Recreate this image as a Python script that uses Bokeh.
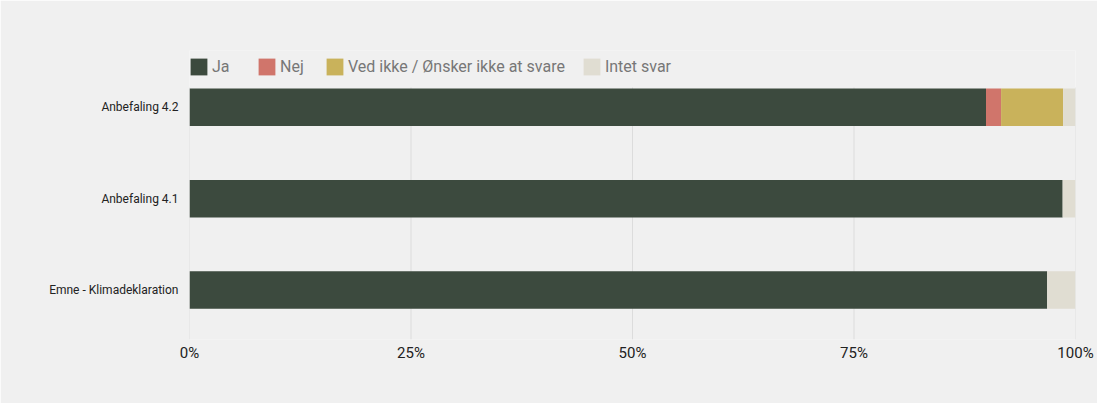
from bokeh.plotting import figure
from bokeh.models import ColumnDataSource, Range1d, FixedTicker, Legend, LegendItem
from bokeh.embed import file_html
from bokeh.resources import INLINE

categories = ["Emne - Klimadeklaration", "Anbefaling 4.1", "Anbefaling 4.2"]
series_names = ["Ja", "Nej", "Ved ikke / Ønsker ikke at svare", "Intet svar"]
ja = [96.8, 98.55, 89.9]
nej = [0.0, 0.0, 1.7]
ved_ikke = [0.0, 0.0, 7.0]
intet_svar = [3.2, 1.45, 1.4]
x_ticks = [0, 25, 50, 75, 100]
x_tick_labels = ["0%", "25%", "50%", "75%", "100%"]
colors = ["#3c4a3e", "#d0756b", "#c9b25b", "#e0ddd2"]

keys = ["ja", "nej", "ved", "intet"]
ypos = list(range(len(categories)))
source = ColumnDataSource(dict(y=ypos, ja=ja, nej=nej, ved=ved_ikke, intet=intet_svar))

# vertical extent of the bar area (gridlines span it); the frame extends above it to hold the legend
y_lo, y_hi, y_top = -0.542, 2.217, 2.622

BG = "#f0f0f0"
p = figure(width=1097, height=403, output_backend="svg", toolbar_location=None,
           x_range=Range1d(0, 100), y_range=Range1d(y_lo, y_top),
           min_border_left=189, min_border_right=22, min_border_top=50, min_border_bottom=64)
p.background_fill_color = BG
p.border_fill_color = BG
p.outline_line_color = None

# gridlines limited to the bar area
p.segment(x0=x_ticks, y0=[y_lo] * len(x_ticks), x1=x_ticks, y1=[y_hi] * len(x_ticks),
          line_color="#dcdcdc", line_width=1)

renderers = p.hbar_stack(keys, y="y", height=0.41, color=colors, source=source, line_color=None)

# axes
p.xaxis.ticker = FixedTicker(ticks=x_ticks)
p.xaxis.major_label_overrides = {t: l for t, l in zip(x_ticks, x_tick_labels)}
p.xaxis.axis_line_color = None
p.xaxis.major_tick_line_color = None
p.xaxis.minor_tick_line_color = None
p.xaxis.major_tick_out = 0
p.xaxis.minor_tick_out = 0
p.xaxis.major_label_text_font = "Roboto"
p.xaxis.major_label_text_font_size = "15px"
p.xaxis.major_label_text_color = "#222222"
p.xaxis.major_label_standoff = 4

p.yaxis.ticker = FixedTicker(ticks=ypos)
p.yaxis.major_label_overrides = {i: c for i, c in zip(ypos, categories)}
p.yaxis.axis_line_color = None
p.yaxis.major_tick_line_color = None
p.yaxis.minor_tick_line_color = None
p.yaxis.major_tick_out = 0
p.yaxis.minor_tick_out = 0
p.yaxis.major_label_text_font = "Roboto"
p.yaxis.major_label_text_font_size = "12px"
p.yaxis.major_label_text_color = "#222222"
p.yaxis.major_label_standoff = 11

p.xgrid.grid_line_color = None
p.ygrid.grid_line_color = None

legend = Legend(items=[LegendItem(label=n, renderers=[r]) for n, r in zip(series_names, renderers)],
                location=(-1, 262), orientation="horizontal",
                glyph_width=21, glyph_height=21, label_standoff=3, spacing=16, label_width=28,
                label_text_font="Roboto", label_text_font_size="16px", label_text_color="#777777",
                background_fill_alpha=0, border_line_color=None, padding=0, margin=0)
p.add_layout(legend, "center")

open("out.html", "w").write(file_html(p, INLINE))
